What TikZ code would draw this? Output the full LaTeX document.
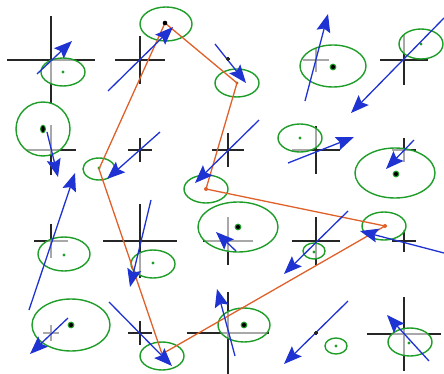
\documentclass[tikz,border=0pt]{standalone}
\usetikzlibrary{arrows.meta}
\definecolor{bl}{HTML}{1F32D2}
\definecolor{gr}{HTML}{1E9E28}
\definecolor{orn}{HTML}{E0602A}
\begin{document}
\begin{tikzpicture}[x=1pt,y=-1pt,
  crossline/.style={line width=1.5pt, draw=black!85},
  ell/.style={draw=gr, line width=1.4pt, fill=white, fill opacity=0.6},
  vel/.style={draw=bl, line width=1.3pt, -{Stealth[length=18pt,width=14pt,inset=3pt]}},
  route/.style={draw=orn, line width=1.3pt, line join=round},
  gdot/.style={fill=gr},
  bdot/.style={fill=black},
  odot/.style={fill=orn}]
\useasboundingbox (0,0) rectangle (444,374);
% crosses
\foreach \x/\y/\h/\v in {51/60/44/44, 140/60/25/24, 228/59/2/2, 316/60/13/12, 404/60/24/25,
  51/150/25/25, 140/150/12/12, 228/150/16/17, 316/150/24/24, 404/150/12/12,
  51/241/17/17, 140/241/37/37, 228/241/25/24, 316/241/24/24, 404/241/12/11,
  51/333/8/8, 140/333/12/12, 228/333/41/41, 316/333/2/2, 404/334/37/37}
  {\draw[crossline] ({\x-\h},\y) -- ({\x+\h},\y) (\x,{\y-\v}) -- (\x,{\y+\v});}
% ellipses
\foreach \x/\y/\a/\b in {63/72/22/14, 166/24/26/17, 237/83/22/14, 333/66/33/21, 421/44/22/15,
  43/129/27/27, 99/169/16/11, 206/189/22/14, 300/138/22/14, 395/173/40/25,
  238/227/40/25, 384/226/22/14, 64/254/26/17, 153/264/22/14, 314/251/11/8,
  71/325/39/26, 162/356/22/14, 244/325/26/17, 336/346/11/8, 410/342/22/14}
  {\draw[ell] (\x,\y) ellipse [x radius=\a, y radius=\b];}
% centre dots
\foreach \x/\y in {63/72, 421/44, 300/138, 64/255, 153/263, 314/252, 336/346, 409/343, 237/83, 99/168}
  {\fill[gdot] (\x,\y) circle [radius=1.7];}
\foreach \x/\y in {333/67, 396/174, 238/227, 71/325, 244/325}
  {\fill[gdot] (\x,\y) circle [radius=3.4]; \fill[bdot] (\x,\y) circle [radius=2.1];}
\fill[gdot] (43,129) ellipse [x radius=3, y radius=4.4];
\fill[bdot] (43,129) ellipse [x radius=1.8, y radius=3.2];
% route
\coordinate (p1) at (165,23);
\coordinate (p2) at (237,83);
\coordinate (p3) at (206,189);
\coordinate (p4) at (385,226);
\coordinate (p5) at (162,354);
\coordinate (p6) at (99,169);
\draw[route] (p1) -- (p2) -- (p3) -- (p4) -- (p5) -- (p6) -- cycle;
\fill[bdot] (p1) circle [radius=2.3];
\foreach \p in {p3,p4} {\fill[odot] (\p) circle [radius=2];}
% velocity arrows
\foreach \a/\b/\c/\d in {37/74/72/41, 108/91/173/27, 215/44/246/83, 305/101/328/14, 444/18/351/113,
  47/132/58/177, 29/310/75/173, 160/132/107/179, 259/120/195/183, 288/163/354/137,
  414/140/386/169, 151/200/130/287, 236/251/216/232, 348/211/284/274, 444/253/360/231,
  68/318/30/354, 109/302/172/366, 235/356/217/289, 348/301/284/364, 429/361/387/315}
  {\coordinate (t) at (\a,\b); \coordinate (h) at (\c,\d); \draw[vel] (t) -- (h);}
\draw[crossline, line width=1.2pt] (226,59) -- (230,59) (228,57) -- (228,61);
\draw[crossline, line width=1.2pt] (314,333) -- (318,333) (316,331) -- (316,335);
\end{tikzpicture}
\end{document}
